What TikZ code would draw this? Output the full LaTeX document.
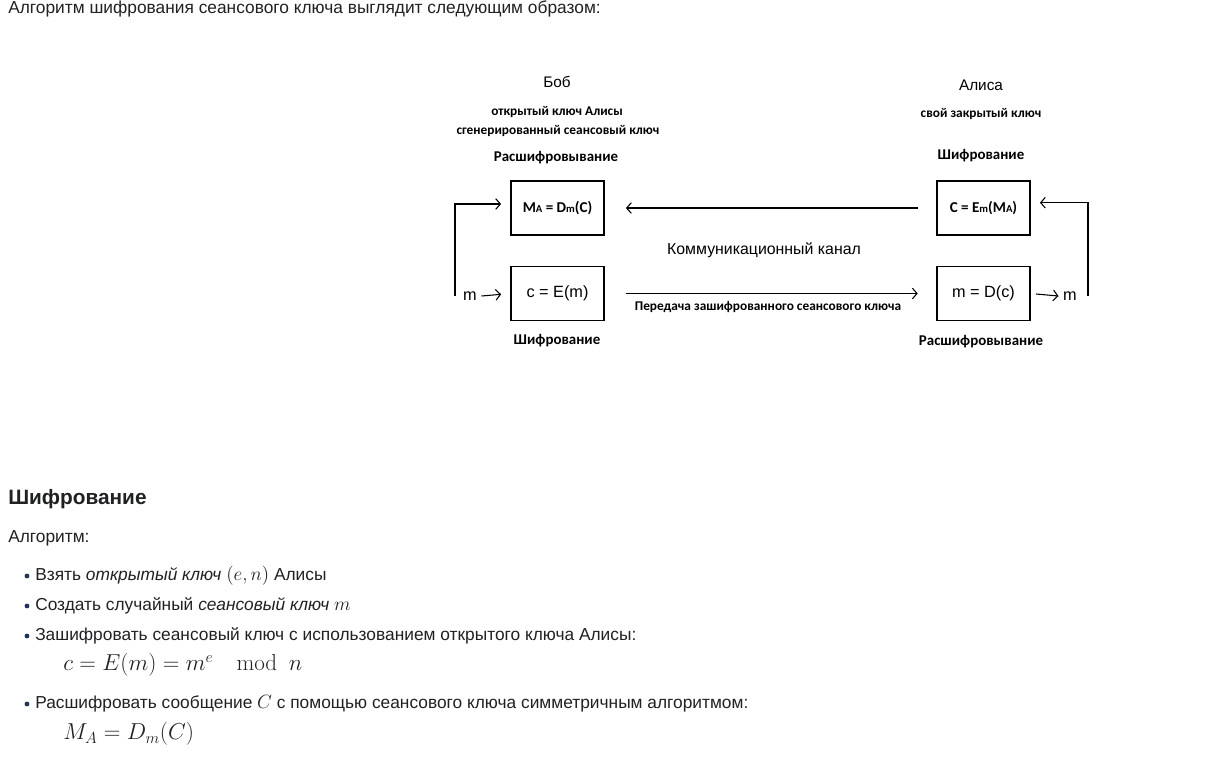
\documentclass[tikz,border=0pt]{standalone}
\usepackage{amsmath}
\usepackage[no-math]{fontspec}
\setmainfont{Liberation Sans}
\newfontfamily\calfont{Carlito}
\usetikzlibrary{arrows.meta}
\definecolor{bulletblue}{RGB}{30,50,90}
\definecolor{pagetext}{RGB}{32,33,34}

\begin{document}
\begin{tikzpicture}[x=0.75pt,y=-0.75pt,
  box/.style={draw,line width=0.9pt,minimum width=69.75pt,minimum height=40.5pt,inner sep=0pt},
  arr/.style={line width=0.8pt,-{Straight Barb[length=3.5pt,width=8pt]}},
  who/.style={font=\fontsize{11.5}{13}\selectfont},
  keys/.style={font=\calfont\bfseries\fontsize{10}{12}\selectfont},
  stage/.style={font=\calfont\bfseries\fontsize{11.2}{13}\selectfont},
  formula/.style={font=\calfont\bfseries\fontsize{11.3}{13}\selectfont},
  body/.style={anchor=west,inner sep=0pt,text=pagetext,font=\fontsize{13}{15}\selectfont}]
  \useasboundingbox (0,0) rectangle (1232,758);
  \node[body] (intro) at (8,9) {Алгоритм шифрования сеансового ключа выглядит следующим образом:};

  % Bob
  \node[who] (bob) at (557,82) {Боб};
  \node[keys] (bobkey1) at (557,112) {открытый ключ Алисы};
  \node[keys] (bobkey2) at (558,131) {сгенерированный сеансовый ключ};
  \node[stage] (bobdecl) at (556,158) {Расшифровывание};
  \node[box,formula] (bobdec) at (557.5,208) {M{\fontsize{8}{9}\selectfont A} = D{\fontsize{8}{9}\selectfont m}(C)};
  \node[box,font=\fontsize{12.2}{14}\selectfont] (bobenc) at (557.5,293.5) {c = E(m)};
  \node[stage] (bobencl) at (557,341) {Шифрование};

  % Alice
  \node[who] (alice) at (981,85) {Алиса};
  \node[keys] (alicekey) at (981,114) {свой закрытый ключ};
  \node[stage] (aliencl) at (981,156) {Шифрование};
  \node[box,formula] (alienc) at (983.5,208) {C = E{\fontsize{8}{9}\selectfont m}(M{\fontsize{8}{9}\selectfont A})};
  \node[box,font=\fontsize{12.2}{14}\selectfont] (alidec) at (983.5,293.5) {m = D(c)};
  \node[stage] (alidecl) at (981,342) {Расшифровывание};

  % channel
  \node[font=\fontsize{11.9}{14}\selectfont] (chan) at (764,250) {Коммуникационный канал};
  \node[keys] (send) at (768,307) {Передача зашифрованного сеансового ключа};
  \draw[arr,shorten <=14pt,shorten >=16pt] (alienc.west) -- (bobdec.east);
  \draw[arr,shorten <=16pt,shorten >=14pt] (bobenc.east) -- (alidec.west);

  % message loops
  \node[font=\fontsize{12.2}{14}\selectfont] (min) at (470,296) {m};
  \node[font=\fontsize{12.2}{14}\selectfont] (mout) at (1070,296) {m};
  \coordinate (loopl) at (455,296);
  \coordinate (loopr) at (1088,296);
  \draw[arr,shorten >=7pt] (min.east) -- (bobenc.west);
  \draw[arr,shorten <=4pt] (alidec.east) -- (mout.west);
  \draw[arr,shorten >=7pt] (loopl) |- ([yshift=3pt]bobdec.west);
  \draw[arr,shorten >=7pt] (loopr) |- ([yshift=4pt]alienc.east);

  % text below
  \node[body,font=\bfseries\fontsize{15.6}{18}\selectfont] (head) at (8,499) {Шифрование};
  \node[body] (algo) at (8,538) {Алгоритм:};
  \foreach \y in {576,606,636,704} \fill[bulletblue] (27,\y) circle (1.8pt);
  \node[body] (item1) at (35,576) {Взять \textit{открытый ключ} {\fontsize{15}{17}\selectfont$(e,n)$} Алисы};
  \node[body] (item2) at (35,606) {Создать случайный \textit{сеансовый ключ} {\fontsize{15}{17}\selectfont$m$}};
  \node[body] (item3) at (35,636) {Зашифровать сеансовый ключ с использованием открытого ключа Алисы:};
  \node[body,font=\fontsize{17.5}{20}\selectfont] (eq1) at (63,665) {$c=E(m)=m^e\mkern18mu\mathrm{mod}\mkern9mu n$};
  \node[body] (item4) at (35,704) {Расшифровать сообщение {\fontsize{15}{17}\selectfont$C$} с помощью сеансового ключа симметричным алгоритмом:};
  \node[body,font=\fontsize{17.5}{20}\selectfont] (eq2) at (63,734) {$M_A=D_m(C)$};
\end{tikzpicture}
\end{document}
